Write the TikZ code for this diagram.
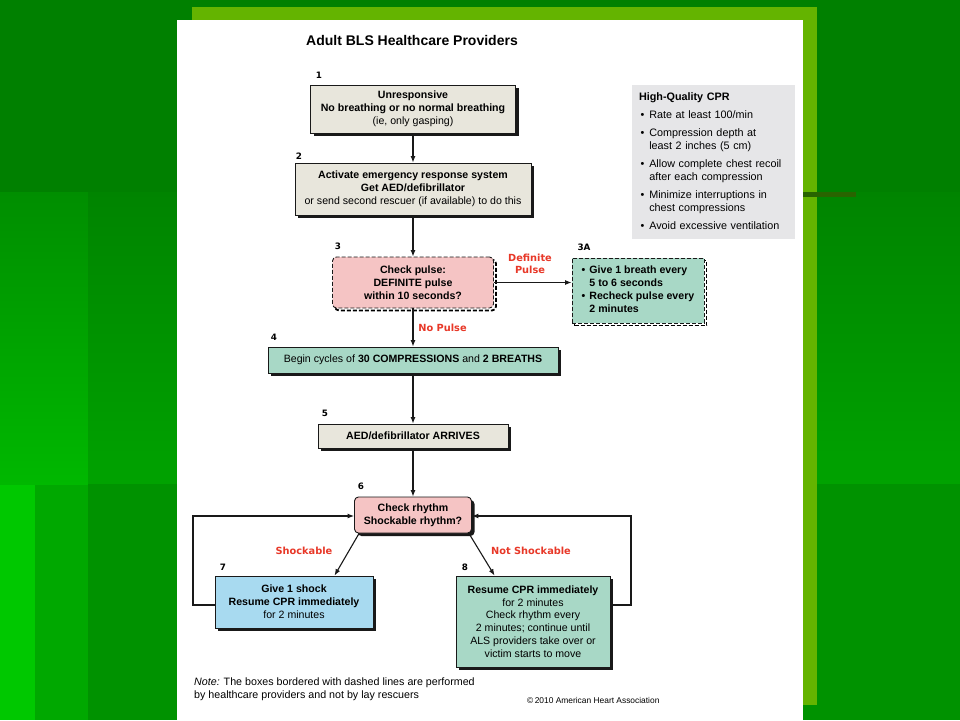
\documentclass[tikz,border=0pt]{standalone}
\usepackage{fontspec}
\setmainfont{Liberation Sans}
\newfontfamily\heavyff{DejaVu Sans}
\usetikzlibrary{calc,shadows,arrows.meta}
\definecolor{bgzero}{RGB}{0,128,0}
\definecolor{bgla}{RGB}{0,142,0}
\definecolor{bglb}{RGB}{0,184,0}
\definecolor{bgra}{RGB}{0,132,0}
\definecolor{bgrb}{RGB}{0,162,0}
\definecolor{bgbl}{RGB}{0,200,0}
\definecolor{bgbm}{RGB}{0,168,0}
\definecolor{bgbr}{RGB}{0,146,0}
\definecolor{bandgreen}{RGB}{100,180,0}
\definecolor{darkline}{RGB}{40,100,0}
\definecolor{beige}{RGB}{232,230,220}
\definecolor{pinkbox}{RGB}{245,196,196}
\definecolor{mintbox}{RGB}{168,216,198}
\definecolor{bluebox}{RGB}{168,218,240}
\definecolor{cprgray}{RGB}{230,230,232}
\definecolor{redlab}{RGB}{232,56,40}
\newcommand\bxfont{\fontsize{10.6}{12.8}\selectfont}
\newcommand\numfont{\heavyff\bfseries\fontsize{8.8}{10}\selectfont}
\newcommand\redfont{\heavyff\bfseries\fontsize{9.8}{12}\selectfont}
\begin{document}
\begin{tikzpicture}[x=1pt,y=-1pt,
  box/.style={draw=black!90, line width=0.9pt, inner sep=0pt, align=center, font=\bxfont},
  solidshadow/.style={general shadow={shadow xshift=3pt, shadow yshift=-3pt, fill=black!90}},
  dashbox/.style={box, dash pattern=on 4pt off 2pt,
     general shadow={shadow xshift=2.5pt, shadow yshift=-2.5pt, draw=black, line width=1.8pt, dash pattern=on 4pt off 2pt}},
  arr/.style={-{Latex[length=6.5pt,width=5pt]}, line width=1.1pt, draw=black!90},
  numlab/.style={font=\numfont, inner sep=0pt},
  redlabel/.style={font=\redfont, text=redlab, align=center, inner sep=0pt}]
\useasboundingbox (0,0) rectangle (960,720);
% background
\fill[bgzero] (0,0) rectangle (960,720);
\shade[top color=bgla, bottom color=bglb] (0,192) rectangle (88,485);
\shade[top color=bgra, bottom color=bgrb] (88,192) rectangle (960,484);
\fill[bgbl] (0,485) rectangle (35,720);
\fill[bgbm] (35,485) rectangle (88,720);
\fill[bgbr] (88,484) rectangle (960,720);
\fill[bandgreen] (192,7) rectangle (817,705);
\fill[darkline] (803,192) rectangle (856,197);
\fill[white] (177,20) rectangle (803,720);
% title
\node[font=\bfseries\fontsize{14}{16}\selectfont, inner sep=0pt] (title) at (412,40) {Adult BLS Healthcare Providers};
% boxes
\node[box, solidshadow, fill=beige, minimum width=205pt, minimum height=48pt] (b1) at (413,109)
  {\textbf{Unresponsive}\\\textbf{No breathing or no normal breathing}\\(ie, only gasping)};
\node[box, solidshadow, fill=beige, minimum width=236pt, minimum height=52pt] (b2) at (413,189)
  {\textbf{Activate emergency response system}\\\textbf{Get AED/defibrillator}\\or send second rescuer (if available) to do this};
\node[dashbox, fill=pinkbox, rounded corners=4pt, minimum width=161pt, minimum height=51pt, font=\bxfont\bfseries] (b3) at (413,282.5)
  {Check pulse:\\DEFINITE pulse\\within 10 seconds?};
\node[dashbox, fill=mintbox, minimum width=132pt, minimum height=65pt, font=\bxfont\bfseries] (b3a) at (638,290.5)
  {\begin{tabular}{@{}l@{\hspace{4pt}}l@{}}\textbullet & Give 1 breath every\\ & 5 to 6 seconds\\ \textbullet & Recheck pulse every\\ & 2 minutes\end{tabular}};
\node[box, solidshadow, fill=mintbox, minimum width=290pt, minimum height=26pt] (b4) at (413,360)
  {Begin cycles of \textbf{30 COMPRESSIONS} and \textbf{2 BREATHS}};
\node[box, solidshadow, fill=beige, minimum width=190pt, minimum height=24pt, font=\bxfont\bfseries] (b5) at (413,436)
  {AED/defibrillator ARRIVES};
\node[box, solidshadow, fill=pinkbox, rounded corners=4pt, minimum width=117pt, minimum height=36pt, font=\bxfont\bfseries] (b6) at (413,515)
  {Check rhythm\\Shockable rhythm?};
\node[box, solidshadow, fill=bluebox, minimum width=158pt, minimum height=52pt] (b7) at (294,602)
  {\textbf{Give 1 shock}\\\textbf{Resume CPR immediately}\\for 2 minutes};
\node[box, solidshadow, fill=mintbox, minimum width=154pt, minimum height=91pt] (b8) at (533,621.5)
  {\textbf{Resume CPR immediately}\\for 2 minutes\\Check rhythm every\\2 minutes; continue until\\ALS providers take over or\\victim starts to move};
\node[fill=cprgray, minimum width=163pt, minimum height=154pt, inner xsep=7pt, inner ysep=0pt, text width=149pt, align=left, font=\fontsize{10.8}{13}\selectfont] (cpr) at (713.5,162)
  {\begin{tabular}{@{\hspace{1.5pt}}l@{\hspace{5pt}}l@{}}\multicolumn{2}{@{}l}{\textbf{High-Quality CPR}}\\[5pt]
   \textbullet & Rate at least 100/min\\[5pt]
   \textbullet & Compression depth at\\ & least 2 inches (5 cm)\\[5pt]
   \textbullet & Allow complete chest recoil\\ & after each compression\\[5pt]
   \textbullet & Minimize interruptions in\\ & chest compressions\\[5pt]
   \textbullet & Avoid excessive ventilation\end{tabular}};
% step numbers
\node[numlab] (n1) at (319,75) {1};
\node[numlab] (n2) at (299,156) {2};
\node[numlab] (n3) at (338,246) {3};
\node[numlab] (n3a) at (584,247) {3A};
\node[numlab] (n4) at (274,337) {4};
\node[numlab] (n5) at (325,413) {5};
\node[numlab] (n6) at (361,486) {6};
\node[numlab] (n7) at (223,567) {7};
\node[numlab] (n8) at (465,567) {8};
% red labels
\node[redlabel] (ldp) at (530,264) {Definite\\Pulse};
\node[redlabel] (lnp) at (442.5,328) {No Pulse};
\node[redlabel] (lsh) at (304,551) {Shockable};
\node[redlabel] (lns) at (531,551) {Not Shockable};
% connectors
\draw[arr] (b1) -- (b2);
\draw[arr] (b2) -- (b3);
\draw[arr] (b3) -- (b4);
\draw[arr] (b4) -- (b5);
\draw[arr] (b5) -- (b6);
\draw[arr] (b3.east) -- (b3.east -| b3a.west);
\draw[arr] ($(b6.south west)+(5,0)$) -- ($(b7.north west)+(120,0)$);
\draw[arr] ($(b6.south east)+(-3,0)$) -- ($(b8.north west)+(39,0)$);
\coordinate (lc) at (193,516);
\coordinate (rc) at (631,516);
\draw[arr] ($(b7.west)+(0,3)$) -| (lc) -- (lc -| b6.west);
\draw[arr] ($(b8.east)+(0,-16.5)$) -| (rc) -- (rc -| b6.east);
% note
\node[anchor=north west, align=left, inner sep=0pt, font=\fontsize{10.7}{13}\selectfont] (note) at (194,678)
  {\textit{Note:} The boxes bordered with dashed lines are performed\\by healthcare providers and not by lay rescuers};
\node[anchor=west, inner sep=0pt, font=\fontsize{8.4}{10}\selectfont] (copy) at (527,700) {\textcopyright\,2010 American Heart Association};
\end{tikzpicture}
\end{document}
